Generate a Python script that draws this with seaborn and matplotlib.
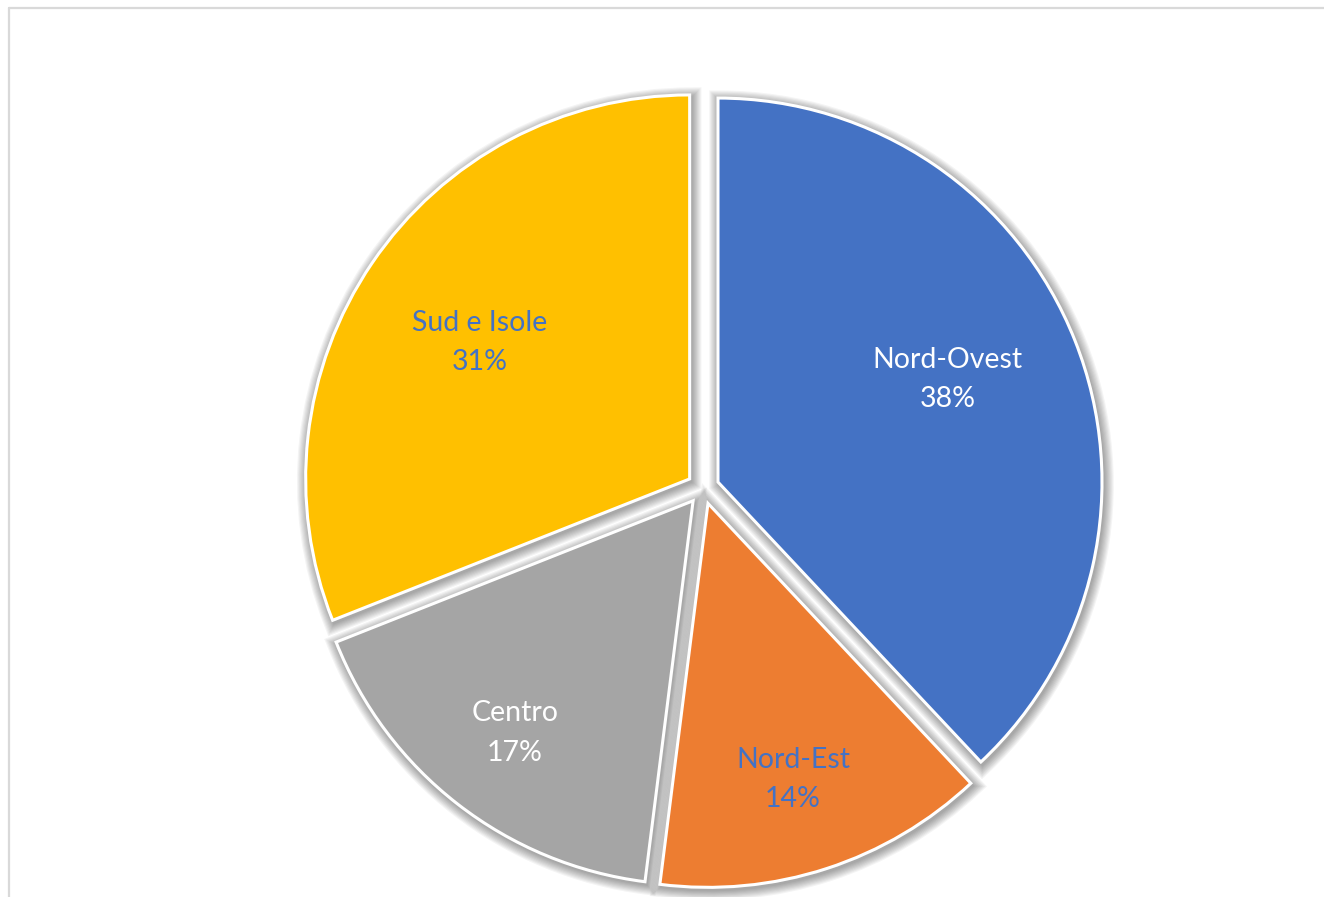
import numpy as np
import matplotlib
matplotlib.use("Agg")
import matplotlib.pyplot as plt
from matplotlib.patches import Wedge
from matplotlib.lines import Line2D
import seaborn as sns

# Regional shares (%)
regions = ["Nord-Ovest", "Nord-Est", "Centro", "Sud e Isole"]
shares = [38, 14, 17, 31]
colors = ["#4472C4", "#ED7D31", "#A5A5A5", "#FFC000"]
label_colors = ["white", "#4472C4", "white", "#4472C4"]
# label placement: radial distance and angular nudge (degrees) from slice middle
label_dist = [0.655, 0.752, 0.762, 0.652]
label_nudge = [2.5, -0.9, 0.3, 1.2]

sns.set_theme(style="white")
plt.rcParams["font.family"] = ["Lato", "DejaVu Sans"]

W, H = 1324, 897
fig = plt.figure(figsize=(W / 100, H / 100), dpi=100)
ax = fig.add_axes([0, 0, 1, 1])

# pie centre at pixel (703, 488), radius 384 px
cx, cy, R = 703, 488, 384

wedges, _ = ax.pie(
    shares,
    colors=colors,
    startangle=90,
    counterclock=False,
    explode=[0.042] * len(shares),
    radius=1.0,
    wedgeprops=dict(edgecolor="white", linewidth=2.2, zorder=3),
    frame=False,
)
ax.set_aspect("auto")
ax.set_xlim(-cx / R, (W - cx) / R)
ax.set_ylim((cy - H) / R, cy / R)
ax.set_axis_off()

# soft drop shadow under each slice
for w in wedges:
    (x0, y0) = w.center
    for k in range(9):
        sh = Wedge((x0 + 0.004, y0 - 0.007), w.r, w.theta1, w.theta2,
                   facecolor="none", edgecolor="black",
                   linewidth=2 + k * 1.6, alpha=0.045, zorder=1)
        ax.add_patch(sh)

# labels with category name and share
for w, name, val, tc, d, nd in zip(wedges, regions, shares, label_colors,
                                   label_dist, label_nudge):
    (x0, y0) = w.center
    mid = np.deg2rad((w.theta1 + w.theta2) / 2 + nd)
    ax.text(x0 + d * np.cos(mid), y0 + d * np.sin(mid), f"{name}\n{val}%",
            ha="center", va="center", color=tc, fontsize=20.5,
            linespacing=1.65, zorder=5)

# chart border
frame_kw = dict(color="#d9d9d9", linewidth=1.6, transform=fig.transFigure)
fig.add_artist(Line2D([8.5 / W, 1], [1 - 8.5 / H, 1 - 8.5 / H], **frame_kw))
fig.add_artist(Line2D([8.5 / W, 8.5 / W], [0, 1 - 8.5 / H], **frame_kw))

fig.savefig("out.png", dpi=100, facecolor="white")
